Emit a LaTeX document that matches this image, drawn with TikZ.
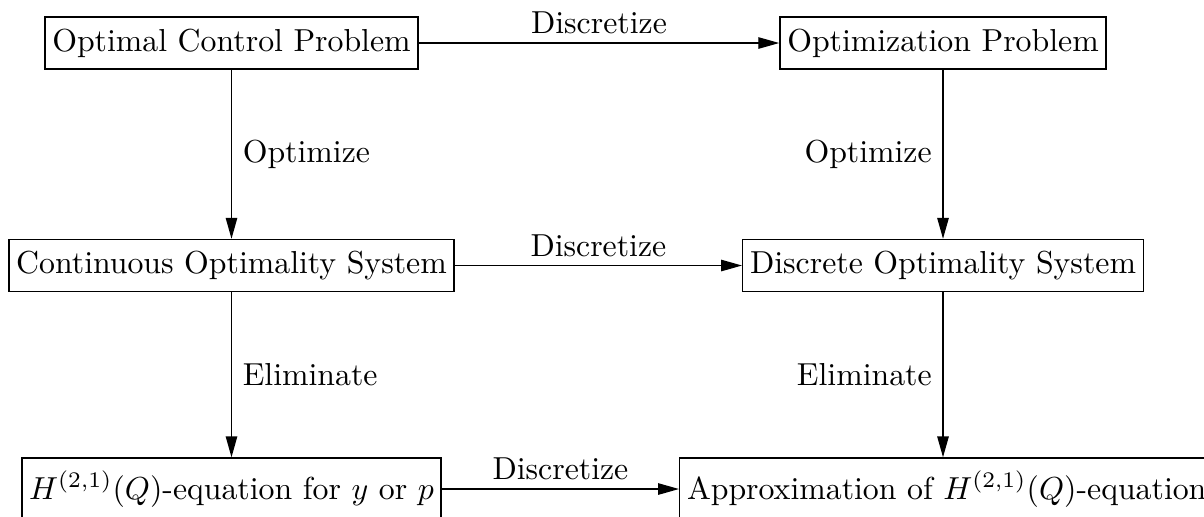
\documentclass[tikz,border=0pt]{standalone}
\usetikzlibrary{arrows.meta}
\begin{document}
\begin{tikzpicture}[x=0.3145pt,y=-0.3145pt,
  box/.style={draw, line width=0.45pt, inner xsep=2.3pt, minimum height=16.35pt},
  lowbox/.style={draw, line width=0.45pt, inner xsep=2.3pt, minimum height=19.5pt},
  arr/.style={line width=0.45pt, -{Triangle[length=6.6pt,width=3.6pt]}}]
\useasboundingbox (0,0) rectangle (1204,516);
\node[box] (ocp) at (231.5,43) {Optimal Control Problem};
\node[box] (op) at (943,43) {Optimization Problem};
\node[box] (cos) at (231.5,265.5) {Continuous Optimality System};
\node[box] (dos) at (943,265.5) {Discrete Optimality System};
\node[lowbox] (heq) at (231.5,489) {$H^{(2,1)}(Q)$-equation for $y$ or $p$};
\node[lowbox, anchor=west] (app) at (679,489) {Approximation of $H^{(2,1)}(Q)$-equation\hspace{4pt}};
\draw[arr] (ocp) -- node[above=-0.8pt] (l1) {Discretize} (op);
\draw[arr] (cos) -- node[above=-0.8pt] (l2) {Discretize} (dos);
\draw[arr] (heq) -- node[above=-0.8pt] (l3) {Discretize} (app);
\draw[arr] (ocp) -- node[right] (l4) {Optimize} (cos);
\draw[arr] (op) -- node[left] (l5) {Optimize} (dos);
\draw[arr] (cos) -- node[right] (l6) {Eliminate} (heq);
\draw[arr] (dos) -- node[left] (l7) {Eliminate} (dos |- app.north);
\end{tikzpicture}
\end{document}
